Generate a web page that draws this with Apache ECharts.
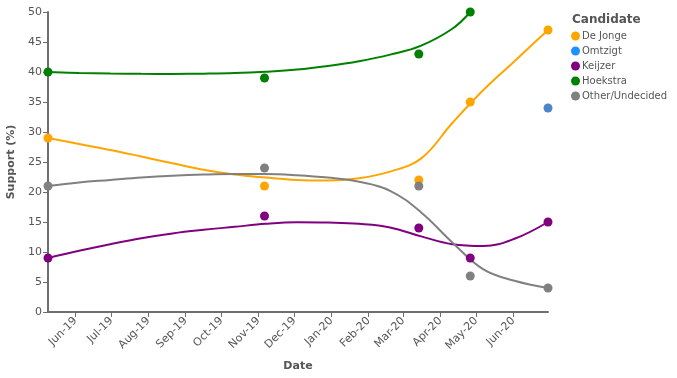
<!DOCTYPE html>
<html>
<head>
<meta charset="utf-8">
<script src="https://cdn.jsdelivr.net/npm/echarts@6/dist/echarts.min.js"></script>
<style>html,body{margin:0;padding:0;background:#fff}#c{width:677px;height:378px}</style>
</head>
<body>
<div id="c"></div>
<script>
// Poll dates and values
var pollDates = ['2019-05-09', '2019-11-06', '2020-03-14', '2020-04-26', '2020-06-30'];
var deJonge  = [29, 21, 22, 35, 47];
var omtzigt  = [null, null, null, null, 34];
var keijzer  = [9, 16, 14, 9, 15];
var hoekstra = [40, 39, 43, 50, null];
var other    = [21, 24, 21, 6, 4];

// Smoothed trend curves
var trendDates = ['2019-05-09','2019-06-04','2019-06-30','2019-07-26','2019-08-21','2019-09-16','2019-10-12','2019-11-07','2019-12-03','2019-12-29','2020-01-24','2020-02-19','2020-03-16','2020-04-11','2020-05-07','2020-06-02','2020-06-30'];
var trendDeJonge = [29, 28.0, 27.0, 25.9, 24.8, 23.7, 22.9, 22.4, 22.0, 21.9, 22.3, 23.4, 25.6, 31.5, 37.0, 41.8, 47];
var trendKeijzer = [9, 10.2, 11.3, 12.3, 13.1, 13.7, 14.2, 14.7, 14.95, 14.9, 14.7, 14.1, 12.6, 11.3, 11.0, 12.2, 15];
var trendOther   = [21, 21.6, 22.0, 22.4, 22.7, 22.9, 23.0, 23.0, 22.8, 22.4, 21.7, 20.2, 16.6, 11.6, 7.1, 5.2, 4];
var trendDatesHoekstra = ['2019-05-09','2019-06-04','2019-06-30','2019-07-26','2019-08-21','2019-09-16','2019-10-12','2019-11-07','2019-12-03','2019-12-29','2020-01-24','2020-02-19','2020-03-16','2020-04-11','2020-04-26'];
var trendHoekstra = [40, 39.85, 39.75, 39.7, 39.68, 39.72, 39.82, 40.05, 40.4, 41.0, 41.8, 42.9, 44.4, 47.2, 50];

// Tick labels (month starts)
var tickDates = ['2019-06-01','2019-07-01','2019-08-01','2019-09-01','2019-10-01','2019-11-01','2019-12-01','2020-01-01','2020-02-01','2020-03-01','2020-04-01','2020-05-01','2020-06-01'];
var tickLabels = ['Jun-19','Jul-19','Aug-19','Sep-19','Oct-19','Nov-19','Dec-19','Jan-20','Feb-20','Mar-20','Apr-20','May-20','Jun-20'];

var names = ['De Jonge', 'Omtzigt', 'Keijzer', 'Hoekstra', 'Other/Undecided'];
var colors = ['#FFA500', '#1E90FF', '#800080', '#008000', '#808080'];

function ts(d) { return new Date(d + 'T00:00:00Z').getTime(); }
var tickTs = tickDates.map(ts);
var labelMap = {};
tickTs.forEach(function (t, i) { labelMap[t] = tickLabels[i]; });

function pts(vals) {
  var out = [];
  vals.forEach(function (v, i) { if (v != null) out.push([ts(pollDates[i]), v]); });
  return out;
}
function trend(dates, vals) {
  return dates.map(function (d, i) { return [ts(d), vals[i]]; });
}

var pointSets = [deJonge, omtzigt, keijzer, hoekstra, other];
var trendSets = [
  [trendDates, trendDeJonge], null, [trendDates, trendKeijzer],
  [trendDatesHoekstra, trendHoekstra], [trendDates, trendOther]
];

var series = [];
names.forEach(function (n, i) {
  series.push({
    name: n, type: 'scatter', symbol: 'circle', symbolSize: 9,
    itemStyle: { color: colors[i], opacity: 1 },
    data: pts(pointSets[i]).map(function (p) {
      return i === 1 ? { value: p, itemStyle: { color: '#4a86c8', opacity: 1 } } : p;
    }),
    z: 3
  });
});
names.forEach(function (n, i) {
  if (!trendSets[i]) return;
  series.push({
    name: n, type: 'line', smooth: 0.4, showSymbol: false,
    lineStyle: { color: colors[i], width: 2 }, itemStyle: { color: colors[i] },
    data: trend(trendSets[i][0], trendSets[i][1]), z: 2, silent: true
  });
});

var chart = echarts.init(document.getElementById('c'), null, { renderer: 'canvas' });
chart.setOption({
  animation: false,
  textStyle: { fontFamily: 'DejaVu Sans' },
  title: {
    text: 'Candidate', left: 572, top: 14, padding: 0,
    textStyle: { fontFamily: 'DejaVu Sans', fontSize: 12, fontWeight: 'bold', color: '#555' }
  },
  legend: {
    data: names, orient: 'vertical', left: 566, top: 26,
    icon: 'circle', itemWidth: 9, itemHeight: 9, itemGap: 5,
    textStyle: { fontFamily: 'DejaVu Sans', fontSize: 10, color: '#555', lineHeight: 10, padding: [0, 0, 0, -3] }
  },
  grid: { left: 48, right: 129, top: 12, bottom: 66, containLabel: false, outerBoundsMode: 'none' },
  xAxis: {
    type: 'value',
    min: ts('2019-05-09'), max: ts('2020-06-30'),
    name: 'Date', nameLocation: 'middle', nameGap: 49,
    nameTextStyle: { fontFamily: 'DejaVu Sans', fontSize: 11, fontWeight: 'bold', color: '#555' },
    axisLine: { show: true, lineStyle: { color: '#6e6e6e', width: 2 } },
    axisTick: { show: true, customValues: tickTs, length: 5, lineStyle: { color: '#6e6e6e', width: 1 } },
    axisLabel: {
      customValues: tickTs, rotate: 45, fontSize: 11, color: '#555', margin: 7,
      formatter: function (v) { return labelMap[v] || ''; }
    },
    splitLine: { show: false }
  },
  yAxis: {
    type: 'value', min: 0, max: 50, interval: 5,
    name: 'Support (%)', nameLocation: 'middle', nameGap: 31,
    nameTextStyle: { fontFamily: 'DejaVu Sans', fontSize: 11, fontWeight: 'bold', color: '#555' },
    axisLine: { show: true, lineStyle: { color: '#6e6e6e', width: 2 } },
    axisTick: { show: true, length: 5, lineStyle: { color: '#6e6e6e', width: 1 } },
    axisLabel: { fontSize: 11, color: '#555', margin: 6 },
    splitLine: { show: false }
  },
  series: series
});
</script>
</body>
</html>
